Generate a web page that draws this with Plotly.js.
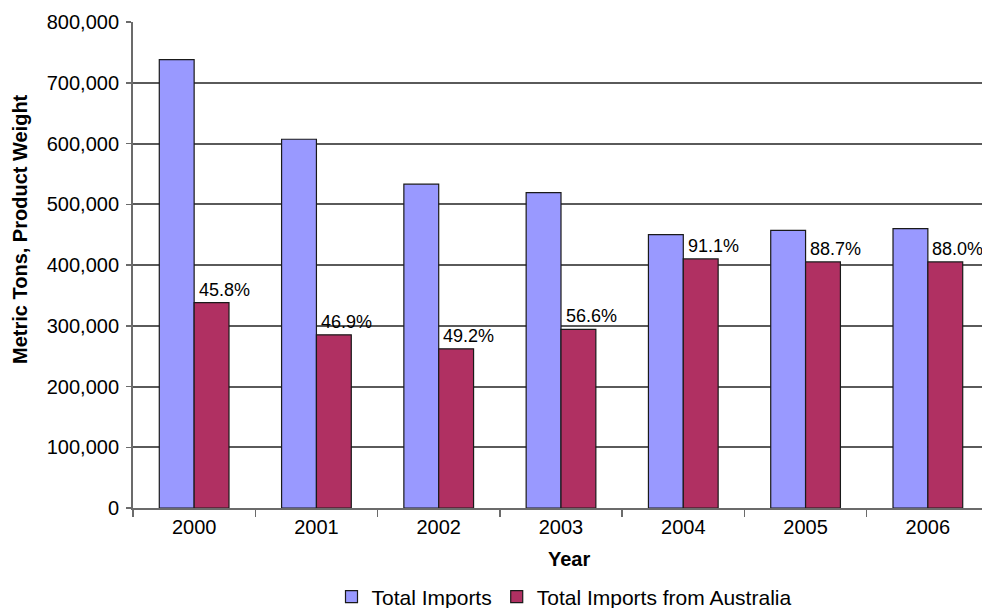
<!DOCTYPE html>
<html>
<head>
<meta charset="utf-8">
<script src="https://cdn.plot.ly/plotly-3.0.1.min.js"></script>
<style>
html, body { margin: 0; padding: 0; overflow: hidden; background: #fff; }
#chart { width: 990px; height: 608px; }
</style>
</head>
<body>
<div id="chart"></div>
<script>
var years = ["2000", "2001", "2002", "2003", "2004", "2005", "2006"];
var totalImports = [738000, 607000, 533000, 519000, 450000, 457000, 460000];
var australiaImports = [338000, 285000, 262000, 294000, 410000, 405000, 405000];
var shareLabels = ["45.8%", "46.9%", "49.2%", "56.6%", "91.1%", "88.7%", "88.0%"];
var yTickValues = [0, 100000, 200000, 300000, 400000, 500000, 600000, 700000, 800000];
var yTickLabels = ["0", "100,000", "200,000", "300,000", "400,000", "500,000", "600,000", "700,000", "800,000"];

var FONT = "Liberation Sans, Arial, sans-serif";

var traces = [
  {
    type: "bar", name: "Total Imports", x: years, y: totalImports,
    marker: { color: "#9999FF", line: { color: "#1a1a1a", width: 1.2 } },
    hoverinfo: "skip"
  },
  {
    type: "bar", name: "Total Imports from Australia", x: years, y: australiaImports,
    marker: { color: "#B03062", line: { color: "#1a1a1a", width: 1.2 } },
    hoverinfo: "skip"
  }
];

var annotations = years.map(function (yr, i) {
  return {
    x: i, y: australiaImports[i], xref: "x", yref: "y",
    text: shareLabels[i], showarrow: false,
    xanchor: "center", yanchor: "bottom", xshift: 30, yshift: 1,
    font: { family: FONT, size: 18, color: "#000" }
  };
});
annotations.push({
  xref: "paper", yref: "paper", x: (20 - 133) / 856, y: (508 - 229) / 486,
  text: "<b>Metric Tons, Product Weight</b>", textangle: -90, showarrow: false,
  xanchor: "center", yanchor: "middle",
  font: { family: FONT, size: 20, color: "#000" }
});
annotations.push({
  xref: "paper", yref: "paper", x: (569 - 133) / 856, y: -(559 - 508) / 486,
  text: "<b>Year</b>", showarrow: false, xanchor: "center", yanchor: "middle",
  font: { family: FONT, size: 20, color: "#000" }
});

var layout = {
  width: 990, height: 608,
  margin: { l: 133, r: 1, t: 22, b: 100, autoexpand: false },
  paper_bgcolor: "#fff", plot_bgcolor: "#fff",
  font: { family: FONT, size: 20, color: "#000" },
  barmode: "group", bargap: 0.43, bargroupgap: 0,
  showlegend: true,
  legend: {
    orientation: "h", xref: "container", yref: "container",
    x: 564 / 990, xanchor: "center", y: (608 - 597) / 608, yanchor: "middle",
    font: { family: FONT, size: 21, color: "#000" },
    itemwidth: 30, itemclick: false, itemdoubleclick: false, traceorder: "normal"
  },
  xaxis: {
    type: "category", tickson: "boundaries", ticks: "outside", ticklen: 7,
    tickcolor: "#6b6b6b", tickwidth: 1.5,
    showline: true, linecolor: "#6b6b6b", linewidth: 2,
    showgrid: false, zeroline: false, fixedrange: true,
    range: [-0.5, 6.5], automargin: false,
    tickfont: { family: FONT, size: 20, color: "#000" }
  },
  yaxis: {
    range: [0, 800000], tickvals: yTickValues, ticktext: yTickLabels,
    ticks: "outside", ticklen: 5, tickcolor: "#6b6b6b", tickwidth: 1.5,
    showline: true, linecolor: "#6b6b6b", linewidth: 2,
    showgrid: true, gridcolor: "#5a5a5a", gridwidth: 2,
    zeroline: false, fixedrange: true, ticklabelstandoff: 3, automargin: false,
    tickfont: { family: FONT, size: 20, color: "#000" }
  },
  annotations: annotations
};

Plotly.newPlot("chart", traces, layout, { displayModeBar: false, staticPlot: true });
</script>
</body>
</html>
